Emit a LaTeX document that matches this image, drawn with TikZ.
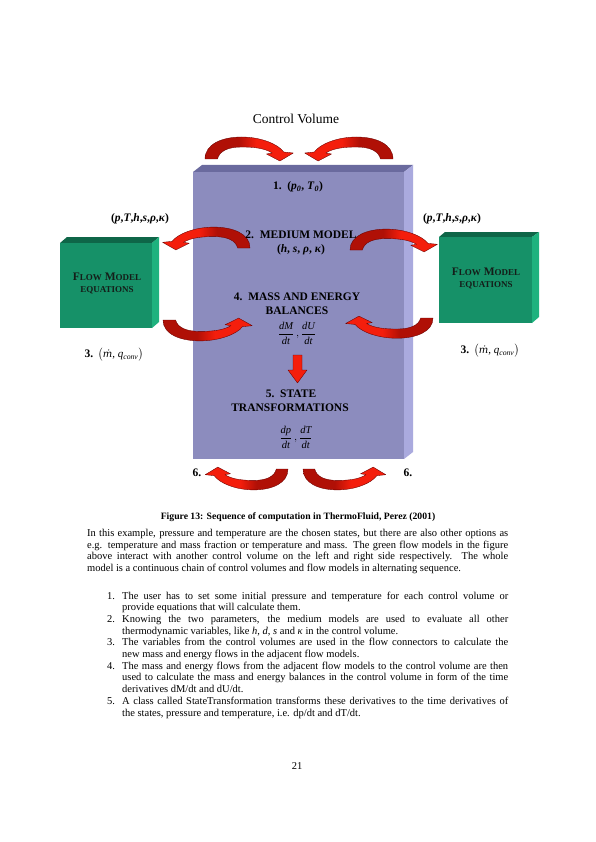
\documentclass[tikz,border=0pt]{standalone}
\usepackage{fontspec}
\usepackage{amsmath}
\setmainfont{Liberation Serif}
\newfontfamily\djvserif{DejaVu Serif}
\definecolor{cvfront}{RGB}{140,140,190}
\definecolor{cvtop}{RGB}{106,106,158}
\definecolor{cvside}{RGB}{170,170,222}
\definecolor{fmfront}{RGB}{22,145,104}
\definecolor{fmtop}{RGB}{14,102,72}
\definecolor{fmside}{RGB}{30,178,126}
\definecolor{fmtext}{RGB}{20,30,25}
\definecolor{arrdark}{RGB}{176,16,6}
\definecolor{arrbright}{RGB}{244,30,12}
\definecolor{arredge}{RGB}{105,0,0}
\pgfdeclarehorizontalshading{arrL}{100bp}{color(0bp)=(arrdark); color(44bp)=(arrdark); color(54bp)=(arrbright); color(100bp)=(arrbright)}
\pgfdeclarehorizontalshading{arrR}{100bp}{color(0bp)=(arrbright); color(46bp)=(arrbright); color(56bp)=(arrdark); color(100bp)=(arrdark)}
\newcommand{\carrow}[5]{%
  \begin{scope}[shift={(#1,#2)}, xscale=#3, yscale=#4]
    \shade[shading=#5, draw=arredge, line width=0.35pt, line join=round]
      (0,0) .. controls (0,-15) and (18,-22) .. (38,-22)
      .. controls (58,-22) and (76,-15) .. (82,-7)
      -- (92,-6) -- (78,2) -- (64,-5) -- (70,-6)
      .. controls (62,-11) and (50,-12) .. (38,-12)
      .. controls (24,-12) and (15,-8) .. (13,0) -- cycle;
  \end{scope}}
\newcommand{\smc}[1]{{\fontsize{9}{10}\selectfont #1}}
\newcommand{\mqconv}{{\mdseries\fontsize{11}{13}\selectfont$\bigl($\textit{\djvserif\fontsize{10}{12}\selectfont ṁ}, \textit{q}\textsubscript{\textit{conv}}$\bigr)$}}
\tikzset{
  lbl/.style={inner sep=0pt, font=\fontsize{11.5}{13}\selectfont\bfseries},
  fmlbl/.style={inner sep=0pt, text=fmtext, font=\fontsize{11.5}{13}\selectfont\bfseries},
  mathlbl/.style={inner sep=0pt, font=\fontsize{10.5}{12}\selectfont},
  body/.style={inner sep=0pt, anchor=base west, font=\fontsize{10.5}{12}\selectfont},
  capt/.style={inner sep=0pt, anchor=base, font=\fontsize{9.7}{11}\selectfont\bfseries},
}
\begin{document}
\begin{tikzpicture}[x=1pt,y=-1pt]
\useasboundingbox[fill=white] (0,0) rectangle (595,842);

% control volume box
\fill[cvtop] (193,172) -- (202,165) -- (413,165) -- (404,172) -- cycle;
\fill[cvside] (404,172) -- (413,165) -- (413,452) -- (404,459) -- cycle;
\fill[cvfront] (193,172) rectangle (404,459);

% left flow model box
\fill[fmtop] (60,243) -- (67,237) -- (159,237) -- (152,243) -- cycle;
\fill[fmside] (152,243) -- (159,237) -- (159,322) -- (152,328) -- cycle;
\fill[fmfront] (60,243) rectangle (152,328);

% right flow model box
\fill[fmtop] (439,237) -- (445,232) -- (539,232) -- (532,237) -- cycle;
\fill[fmside] (532,237) -- (539,232) -- (539,317) -- (532,323) -- cycle;
\fill[fmfront] (439,237) rectangle (532,323);

% curved arrows
\carrow{205}{159}{0.96}{1}{arrL}
\carrow{393}{159}{-0.96}{1}{arrR}
\carrow{250}{248}{-0.95}{0.95}{arrR}
\carrow{350}{250}{0.95}{0.95}{arrL}
\carrow{163}{320}{0.97}{-0.95}{arrL}
\carrow{433}{318}{-0.95}{-0.92}{arrR}
\carrow{288}{469}{-0.9}{-0.95}{arrR}
\carrow{303}{469}{0.9}{-0.95}{arrL}

% straight down arrow
\fill[arrbright, draw=arredge, line width=0.35pt, line join=round]
  (293,355) -- (302,355) -- (302,370) -- (307,370) -- (297.5,383) -- (288,370) -- (293,370) -- cycle;

% diagram labels
\node[inner sep=0pt, font=\fontsize{13.5}{15}\selectfont] (title) at (296,119) {Control Volume};
\node[lbl] (s1) at (298,187) {1.\hspace{0.5em}(\textit{p}\textsubscript{\textit{0}}, \textit{T}\textsubscript{\textit{0}})};
\node[lbl] (varsL) at (140,219) {(\textit{p},\textit{T},\textit{h},\textit{s},\textit{ρ},\textit{κ})};
\node[lbl] (varsR) at (452,219) {(\textit{p},\textit{T},\textit{h},\textit{s},\textit{ρ},\textit{κ})};
\node[lbl] (s2) at (301,235) {2.\hspace{0.5em}MEDIUM MODEL};
\node[lbl] (s2v) at (301,250) {(\textit{h}, \textit{s}, \textit{ρ}, \textit{κ})};
\node[fmlbl] (fmL1) at (107,277) {F\smc{LOW} M\smc{ODEL}};
\node[fmlbl] (fmL2) at (107,290) {\smc{EQUATIONS}};
\node[fmlbl] (fmR1) at (486,272) {F\smc{LOW} M\smc{ODEL}};
\node[fmlbl] (fmR2) at (486,285) {\smc{EQUATIONS}};
\node[lbl] (s4a) at (297,297) {4.\hspace{0.5em}MASS AND ENERGY};
\node[lbl] (s4b) at (297,311) {BALANCES};
\node[mathlbl] (s4m) at (297,333) {$\displaystyle\frac{\textit{dM}}{\textit{dt}}\,,\frac{\textit{dU}}{\textit{dt}}$};
\node[lbl] (s5a) at (291,394) {5.\hspace{0.5em}STATE};
\node[lbl] (s5b) at (290,408) {TRANSFORMATIONS};
\node[mathlbl] (s5m) at (296,437) {$\displaystyle\frac{\textit{dp}}{\textit{dt}}\,,\frac{\textit{dT}}{\textit{dt}}$};
\node[lbl] (s3L) at (114,355) {3.\hspace{0.4em}\mqconv};
\node[lbl] (s3R) at (490,351) {3.\hspace{0.4em}\mqconv};
\node[lbl] (s6L) at (197,473) {6.};
\node[lbl] (s6R) at (408,473) {6.};

% caption
\node[capt] (cap) at (298,519.5) {Figure 13: Sequence of computation in ThermoFluid, Perez (2001)};

% paragraph
\node[body] (p1) at (87,536.5) {\makebox[421pt][s]{In this example, pressure and temperature are the chosen states, but there are also other options as}};
\node[body] (p2) at (87,548.2) {\makebox[421pt][s]{e.g. temperature and mass fraction or temperature and mass. The green flow models in the figure}};
\node[body] (p3) at (87,559.8) {\makebox[421pt][s]{above interact with another control volume on the left and right side respectively. The whole}};
\node[body] (p4) at (87,571.5) {model is a continuous chain of control volumes and flow models in alternating sequence.};

% list
\node[body] (n1) at (107,599) {1.};
\node[body] (l1a) at (122,599) {\makebox[386pt][s]{The user has to set some initial pressure and temperature for each control volume or}};
\node[body] (l1b) at (122,610.7) {provide equations that will calculate them.};
\node[body] (n2) at (107,622.4) {2.};
\node[body] (l2a) at (122,622.4) {\makebox[386pt][s]{Knowing the two parameters, the medium models are used to evaluate all other}};
\node[body] (l2b) at (122,634.1) {thermodynamic variables, like \textit{h}, \textit{d}, \textit{s} and \textit{κ} in the control volume.};
\node[body] (n3) at (107,645.8) {3.};
\node[body] (l3a) at (122,645.8) {\makebox[386pt][s]{The variables from the control volumes are used in the flow connectors to calculate the}};
\node[body] (l3b) at (122,657.5) {new mass and energy flows in the adjacent flow models.};
\node[body] (n4) at (107,669.2) {4.};
\node[body] (l4a) at (122,669.2) {\makebox[386pt][s]{The mass and energy flows from the adjacent flow models to the control volume are then}};
\node[body] (l4b) at (122,680.9) {\makebox[386pt][s]{used to calculate the mass and energy balances in the control volume in form of the time}};
\node[body] (l4c) at (122,692.6) {derivatives dM/dt and dU/dt.};
\node[body] (n5) at (107,704.3) {5.};
\node[body] (l5a) at (122,704.3) {\makebox[386pt][s]{A class called StateTransformation transforms these derivatives to the time derivatives of}};
\node[body] (l5b) at (122,716.0) {the states, pressure and temperature, i.e. dp/dt and dT/dt.};

% page number
\node[body, anchor=base] (pg) at (297,769) {21};
\end{tikzpicture}
\end{document}
